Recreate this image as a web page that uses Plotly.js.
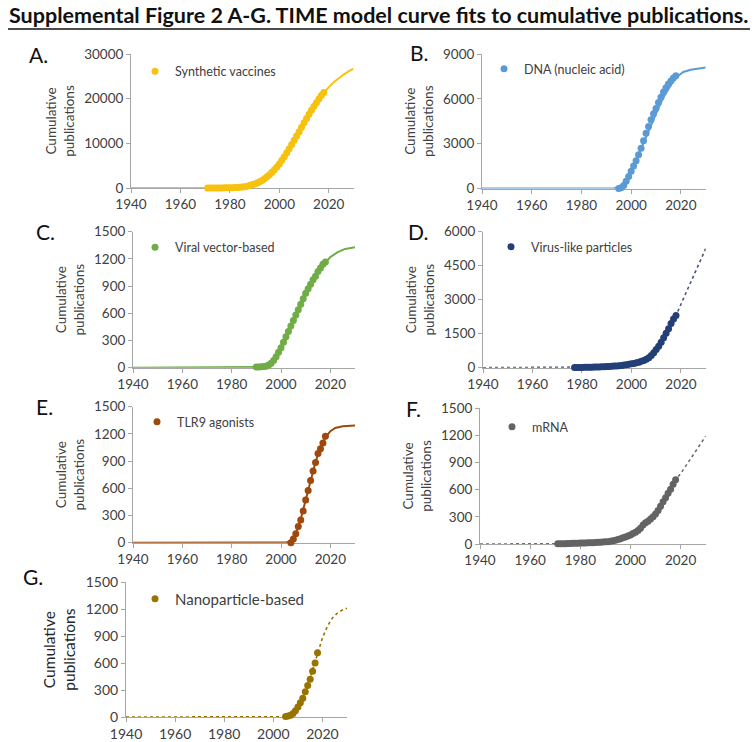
<!DOCTYPE html>
<html>
<head>
<meta charset="utf-8">
<script src="https://cdn.plot.ly/plotly-3.0.1.min.js"></script>
<style>
  html, body { margin: 0; padding: 0; background: #fff; }
  #chart { width: 756px; height: 742px; }
</style>
</head>
<body>
<div id="chart"></div>
<script>
/* ─── Supplemental Figure 2 A-G: TIME model fits ─── */

// A. Synthetic vaccines (observed from 1971)
const synthStart = 1971;
const synthValues = [0, 0, 5, 10, 15, 20, 25, 35, 45, 55, 70, 90, 110, 140, 200,
    280, 400, 560, 720, 880, 1100, 1380, 1700, 2080, 2500, 2980, 3500, 4080, 4700, 5400,
    6200, 7000, 7900, 8800, 9750, 10700, 11650, 12600, 13600, 14600, 15550, 16500, 17400,
    18300, 19100, 19900, 20700, 21400];
const synthFitYears = [1940, 1960, 1970, 1975, 1980, 1984, 1986, 1988, 1990, 1992, 1994, 1996, 1998, 2000,
    2002, 2004, 2006, 2008, 2010, 2012, 2014, 2016, 2018, 2020, 2022, 2024, 2026, 2028, 2030];
const synthFitValues = [0, 0, 5, 15, 60, 200, 300, 550, 850, 1350, 2050, 3000, 4100, 5400,
    7000, 8800, 10700, 12600, 14600, 16500, 18300, 19900, 21300, 22600, 23700, 24600, 25400, 26100, 26700];

// B. DNA (nucleic acid)
const dnaStart = 1995;
const dnaValues = [0, 50, 200, 480, 800, 1150, 1500, 1850, 2250, 2700, 3200, 3700, 4150, 4600,
    5000, 5350, 5750, 6100, 6450, 6750, 7000, 7200, 7400, 7550];
const dnaFitYears = [1940, 1980, 1990, 1993, 1995, 1997, 1999, 2001, 2003, 2005, 2007, 2009, 2011,
    2013, 2015, 2017, 2019, 2021, 2024, 2027, 2030];
const dnaFitValues = [0, 0, 0, 10, 80, 350, 850, 1500, 2250, 3050, 3850, 4650, 5400,
    6100, 6700, 7200, 7550, 7800, 7950, 8050, 8100];

// C. Viral vector-based
const viralStart = 1990;
const viralValues = [8, 8, 10, 12, 15, 30, 50, 80, 120, 170, 220, 280, 340, 400, 460, 520, 580,
    640, 700, 760, 820, 870, 920, 970, 1010, 1060, 1100, 1140, 1165];
const viralFitYears = [1940, 1980, 1986, 1990, 1993, 1996, 1999, 2002, 2005, 2008, 2011, 2014,
    2017, 2020, 2023, 2026, 2030];
const viralFitValues = [0, 0, 2, 8, 25, 70, 170, 310, 490, 680, 860, 1010, 1130, 1220, 1275, 1310, 1330];

// D. Virus-like particles
const vlpStart = 1977;
const vlpValues = [5, 8, 10, 12, 15, 18, 20, 24, 28, 32, 36, 40, 45, 50,
    55, 62, 70, 80, 90, 100, 115, 130, 150, 170,
    190, 215, 245, 280, 320, 370, 440, 540, 660, 800,
    950, 1120, 1320, 1520, 1720, 1950, 2150, 2300];
const vlpFitYears = [1940, 1960, 1975, 1985, 1990, 1995, 2000, 2003, 2006, 2009, 2012, 2015, 2018,
    2021, 2024, 2027, 2030];
const vlpFitValues = [0, 2, 10, 30, 50, 90, 170, 250, 380, 640, 1100, 1720, 2300, 3050, 3800, 4550, 5250];

// E. TLR9 agonists
const tlrStart = 2004;
const tlrValues = [0, 40, 100, 180, 250, 350, 470, 575, 685, 790, 885, 985, 1035, 1100, 1175];
const tlrFitYears = [1940, 1998, 2002, 2004, 2006, 2008, 2010, 2012, 2014, 2016, 2018, 2020, 2022, 2025, 2030];
const tlrFitValues = [0, 0, 3, 15, 90, 260, 470, 690, 890, 1050, 1160, 1230, 1265, 1285, 1292];

// F. mRNA
const mrnaStart = 1971;
const mrnaValues = [2, 3, 3, 4, 5, 6, 7, 8, 9, 10,
    11, 12, 13, 14, 15, 16, 18, 20, 22, 24,
    26, 30, 35, 42, 50, 58, 68, 78, 88, 100,
    115, 130, 150, 175, 210, 235, 250, 275, 300, 330,
    370, 415, 465, 510, 560, 605, 660, 710];
const mrnaFitYears = [1940, 1965, 1970, 1980, 1990, 1995, 2000, 2005, 2010, 2015, 2018, 2020, 2024, 2027, 2030];
const mrnaFitValues = [0, 0, 2, 10, 24, 50, 100, 200, 330, 560, 710, 775, 940, 1065, 1190];

// G. Nanoparticle-based
const nanoStart = 2005;
const nanoValues = [5, 10, 20, 40, 70, 110, 160, 210, 280, 350, 420, 510, 600, 715];
const nanoFitYears = [1940, 2000, 2004, 2006, 2008, 2010, 2012, 2014, 2016, 2018, 2020, 2022, 2024,
    2026, 2028, 2030];
const nanoFitValues = [0, 0, 2, 10, 40, 110, 215, 350, 520, 710, 880, 1010, 1100, 1155, 1190, 1210];

const yearTicks = [1940, 1960, 1980, 2000, 2020];

const PANELS = [
    { letter: 'A.', name: 'Synthetic vaccines', start: synthStart, values: synthValues,
      fitX: synthFitYears, fitY: synthFitValues, color: '#F7C10F', fitColor: '#F7C10F', dash: 'solid', ymax: 30000, dtick: 10000 },
    { letter: 'B.', name: 'DNA (nucleic acid)', start: dnaStart, values: dnaValues,
      fitX: dnaFitYears, fitY: dnaFitValues, color: '#5B9BD5', fitColor: '#5B9BD5', dash: 'solid', ymax: 9000, dtick: 3000 },
    { letter: 'C.', name: 'Viral vector-based', start: viralStart, values: viralValues,
      fitX: viralFitYears, fitY: viralFitValues, color: '#70AD47', fitColor: '#70AD47', dash: 'solid', ymax: 1500, dtick: 300 },
    { letter: 'D.', name: 'Virus-like particles', start: vlpStart, values: vlpValues,
      fitX: vlpFitYears, fitY: vlpFitValues, color: '#223F78', fitColor: '#4a5670', dash: 'dot', ymax: 6000, dtick: 1500 },
    { letter: 'E.', name: 'TLR9 agonists', start: tlrStart, values: tlrValues,
      fitX: tlrFitYears, fitY: tlrFitValues, color: '#9E480E', fitColor: '#9E480E', dash: 'solid', ymax: 1500, dtick: 300 },
    { letter: 'F.', name: 'mRNA', start: mrnaStart, values: mrnaValues,
      fitX: mrnaFitYears, fitY: mrnaFitValues, color: '#636363', fitColor: '#707070', dash: 'dot', ymax: 1500, dtick: 300 },
    { letter: 'G.', name: 'Nanoparticle-based', start: nanoStart, values: nanoValues,
      fitX: nanoFitYears, fitY: nanoFitValues, color: '#997300', fitColor: '#997300', dash: 'dot', ymax: 1500, dtick: 300, big: true },
];

// pixel boxes of each plot area [left, right, top, bottom], letter pos, legend marker pos
const BOXES = [
    { plot: [131, 353.5, 54, 188],   letter: [27, 54],  legend: [155, 71.5] },
    { plot: [482, 705.7, 54, 188.5], letter: [408, 53], legend: [504, 69] },
    { plot: [133, 355, 231.7, 367.7], letter: [34, 231], legend: [155, 247.5] },
    { plot: [483, 705.7, 231.7, 367.7], letter: [406, 231], legend: [511, 247] },
    { plot: [133, 355, 406.7, 542.7], letter: [34, 407], legend: [157, 422] },
    { plot: [480, 705.7, 408, 544],   letter: [404, 408], legend: [512, 427] },
    { plot: [126, 347, 582.3, 717],   letter: [21, 576], legend: [155, 599] },
];

const W = 756, H = 742;
const FONT = 'Lato, "Open Sans", sans-serif';
const AXIS_GRAY = '#a6a6a6';
const TEXT_GRAY = '#404040';

function yearsFrom(start, n) {
    return Array.from({ length: n }, (_, i) => start + i);
}

function buildFigure() {
    const traces = [];
    const layout = {
        width: W, height: H,
        margin: { l: 0, r: 0, t: 0, b: 0 },
        paper_bgcolor: '#fff', plot_bgcolor: 'rgba(0,0,0,0)',
        font: { family: FONT, color: TEXT_GRAY },
        showlegend: true,
        annotations: [], shapes: [],
    };

    PANELS.forEach((p, i) => {
        const n = i + 1;
        const sfx = n === 1 ? '' : String(n);
        const b = BOXES[i];
        const tickSize = p.big ? 14 : 13.5;

        traces.push({
            x: p.fitX, y: p.fitY,
            type: 'scatter', mode: 'lines',
            line: { color: p.fitColor, width: p.dash === 'solid' ? 2 : 1.6, dash: p.dash },
            xaxis: 'x' + sfx, yaxis: 'y' + sfx,
            showlegend: false, cliponaxis: false, hoverinfo: 'skip',
        });
        traces.push({
            x: yearsFrom(p.start, p.values.length), y: p.values,
            type: 'scatter', mode: 'markers',
            marker: { color: p.color, size: 7 },
            name: p.name,
            xaxis: 'x' + sfx, yaxis: 'y' + sfx,
            legend: 'legend' + sfx, cliponaxis: false,
        });

        const axisBase = {
            showline: true, linecolor: AXIS_GRAY, linewidth: 1,
            ticks: 'outside', ticklen: 4, tickcolor: AXIS_GRAY,
            showgrid: false, zeroline: false, layer: 'below traces',
            tickfont: { size: tickSize, color: TEXT_GRAY, family: FONT },
            tickformat: 'd',
            fixedrange: true,
        };
        layout['xaxis' + sfx] = {
            ...axisBase,
            domain: [b.plot[0] / W, b.plot[1] / W],
            anchor: 'y' + sfx,
            range: [1940, 2030],
            tickvals: yearTicks,
        };
        layout['yaxis' + sfx] = {
            ...axisBase,
            domain: [1 - b.plot[3] / H, 1 - b.plot[2] / H],
            anchor: 'x' + sfx,
            range: [0, p.ymax],
            dtick: p.dtick,
            title: {
                text: 'Cumulative<br>publications',
                font: { size: p.big ? 15.5 : 13.5, color: p.big ? '#262626' : TEXT_GRAY, family: FONT },
                standoff: 6,
            },
        };
        layout['legend' + sfx] = {
            x: (b.legend[0] - 20) / W, y: 1 - b.legend[1] / H,
            xanchor: 'left', yanchor: 'middle',
            bgcolor: 'rgba(0,0,0,0)', borderwidth: 0,
            font: { size: p.big ? 15 : 12.5, color: TEXT_GRAY, family: FONT },
            itemclick: false, itemdoubleclick: false,
        };
        layout.annotations.push({
            text: p.letter, xref: 'paper', yref: 'paper',
            x: b.letter[0] / W, y: 1 - b.letter[1] / H,
            xanchor: 'left', yanchor: 'middle', showarrow: false,
            font: { size: 21, color: '#111', family: FONT },
        });
    });

    // figure title with underline
    layout.annotations.push({
        text: '<b>Supplemental Figure 2 A-G. TIME model curve fits to cumulative publications.</b>',
        xref: 'paper', yref: 'paper', x: 379 / W, y: 1 - 15 / H,
        xanchor: 'center', yanchor: 'middle', showarrow: false,
        font: { size: 21.5, color: '#111', family: FONT },
    });
    layout.shapes.push({
        type: 'line', xref: 'paper', yref: 'paper',
        x0: 8 / W, x1: 750 / W, y0: 1 - 29 / H, y1: 1 - 29 / H,
        line: { color: '#111', width: 1.6 },
    });

    return { traces, layout };
}

const fig = buildFigure();
Plotly.newPlot('chart', fig.traces, fig.layout, { staticPlot: true, displayModeBar: false });
</script>
</body>
</html>
